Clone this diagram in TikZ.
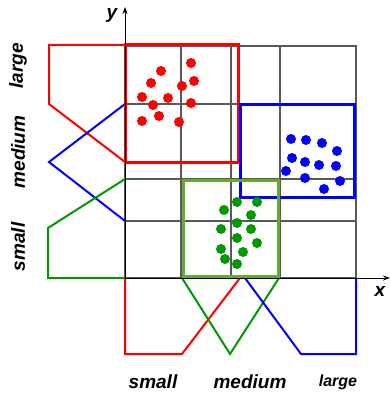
\documentclass[tikz,border=0pt]{standalone}
\usepackage{fontspec}
\setmainfont{Liberation Sans}
\usetikzlibrary{arrows.meta}

\definecolor{setred}{RGB}{255,0,0}
\definecolor{setblue}{RGB}{0,0,255}
\definecolor{setgreen}{RGB}{0,153,0}
\definecolor{boxgreen}{RGB}{102,170,51}

\begin{document}
\begin{tikzpicture}[x=1pt,y=-1pt,
    gridline/.style={black!65, line width=1.1pt},
    mf/.style={line width=2pt, line join=miter},
    setbox/.style={line width=3pt},
    lbl/.style={font=\fontsize{19}{19}\selectfont\bfseries\itshape, inner sep=0pt}]
    \useasboundingbox (0,0) rectangle (390,393);

    % Grid
    \draw[gridline] (125,46) rectangle (356,278);
    \foreach \gx in {181,231,280}
        \draw[gridline] (\gx,46) -- (\gx,278);
    \foreach \gy in {104,179,221}
        \draw[gridline] (125,\gy) -- (356,\gy);

    % Membership functions on y
    \draw[mf, setred] (125,45) -- (49,45) -- (49,104) -- (125,162);
    \draw[mf, setblue] (125,104) -- (49,162) -- (125,221);
    \draw[mf, setgreen] (125,179) -- (48,228) -- (48,278) -- (125,278);

    % Membership functions on x
    \draw[mf, setred] (125,278) -- (125,354) -- (182,354) -- (240,278);
    \draw[mf, setgreen] (182,278) -- (230,354) -- (279,278);
    \draw[mf, setblue] (245,278) -- (301,354) -- (356,354) -- (356,278);

    % Clusters
    \draw[setbox, setred] (125,45) rectangle (238,162);
    \draw[setbox, setblue] (240,105) rectangle (354,197);
    \draw[setbox, boxgreen] (183,180) rectangle (278,276);

    \foreach \p in {(191,63),(161,71),(151,83),(194,81),(182,86),(142,97),
                    (168,98),(153,105),(191,103),(159,116),(142,121),(179,122)}
        \fill[setred] \p circle (5);
    \foreach \p in {(291,139),(306,140),(322,143),(337,151),(292,158),(305,162),
                    (319,165),(336,166),(286,171),(305,178),(340,181),(324,189)}
        \fill[setblue] \p circle (5);
    \foreach \p in {(237,202),(257,202),(224,210),(251,215),(237,223),(221,229),
                    (251,229),(237,238),(257,243),(221,249),(243,252),(225,259),(237,264)}
        \fill[setgreen] \p circle (5);

    % Axes
    \coordinate (O) at (125,278);
    \coordinate (xend) at (390,278);
    \coordinate (yend) at (125,7);
    \draw[line width=1pt, -{Stealth[length=7pt, width=5pt]}] (O) -- (xend);
    \draw[line width=1pt, -{Stealth[length=7pt, width=5pt]}] (O) -- (yend);
    \node[lbl] (xlabel) at (380,291) {x};
    \node[lbl] (ylabel) at (112,15) {y};

    % Labels
    \node[lbl, rotate=90] (ylarge) at (18,66) {large};
    \node[lbl, rotate=90] (ymedium) at (18,152) {medium};
    \node[lbl, rotate=90] (ysmall) at (18,247) {small};
    \node[lbl] (xsmall) at (153,382) {small};
    \node[lbl] (xmedium) at (250,382) {medium};
    \node[lbl, font=\fontsize{16}{16}\selectfont\bfseries\itshape] (xlarge) at (338,382) {large};
\end{tikzpicture}
\end{document}
